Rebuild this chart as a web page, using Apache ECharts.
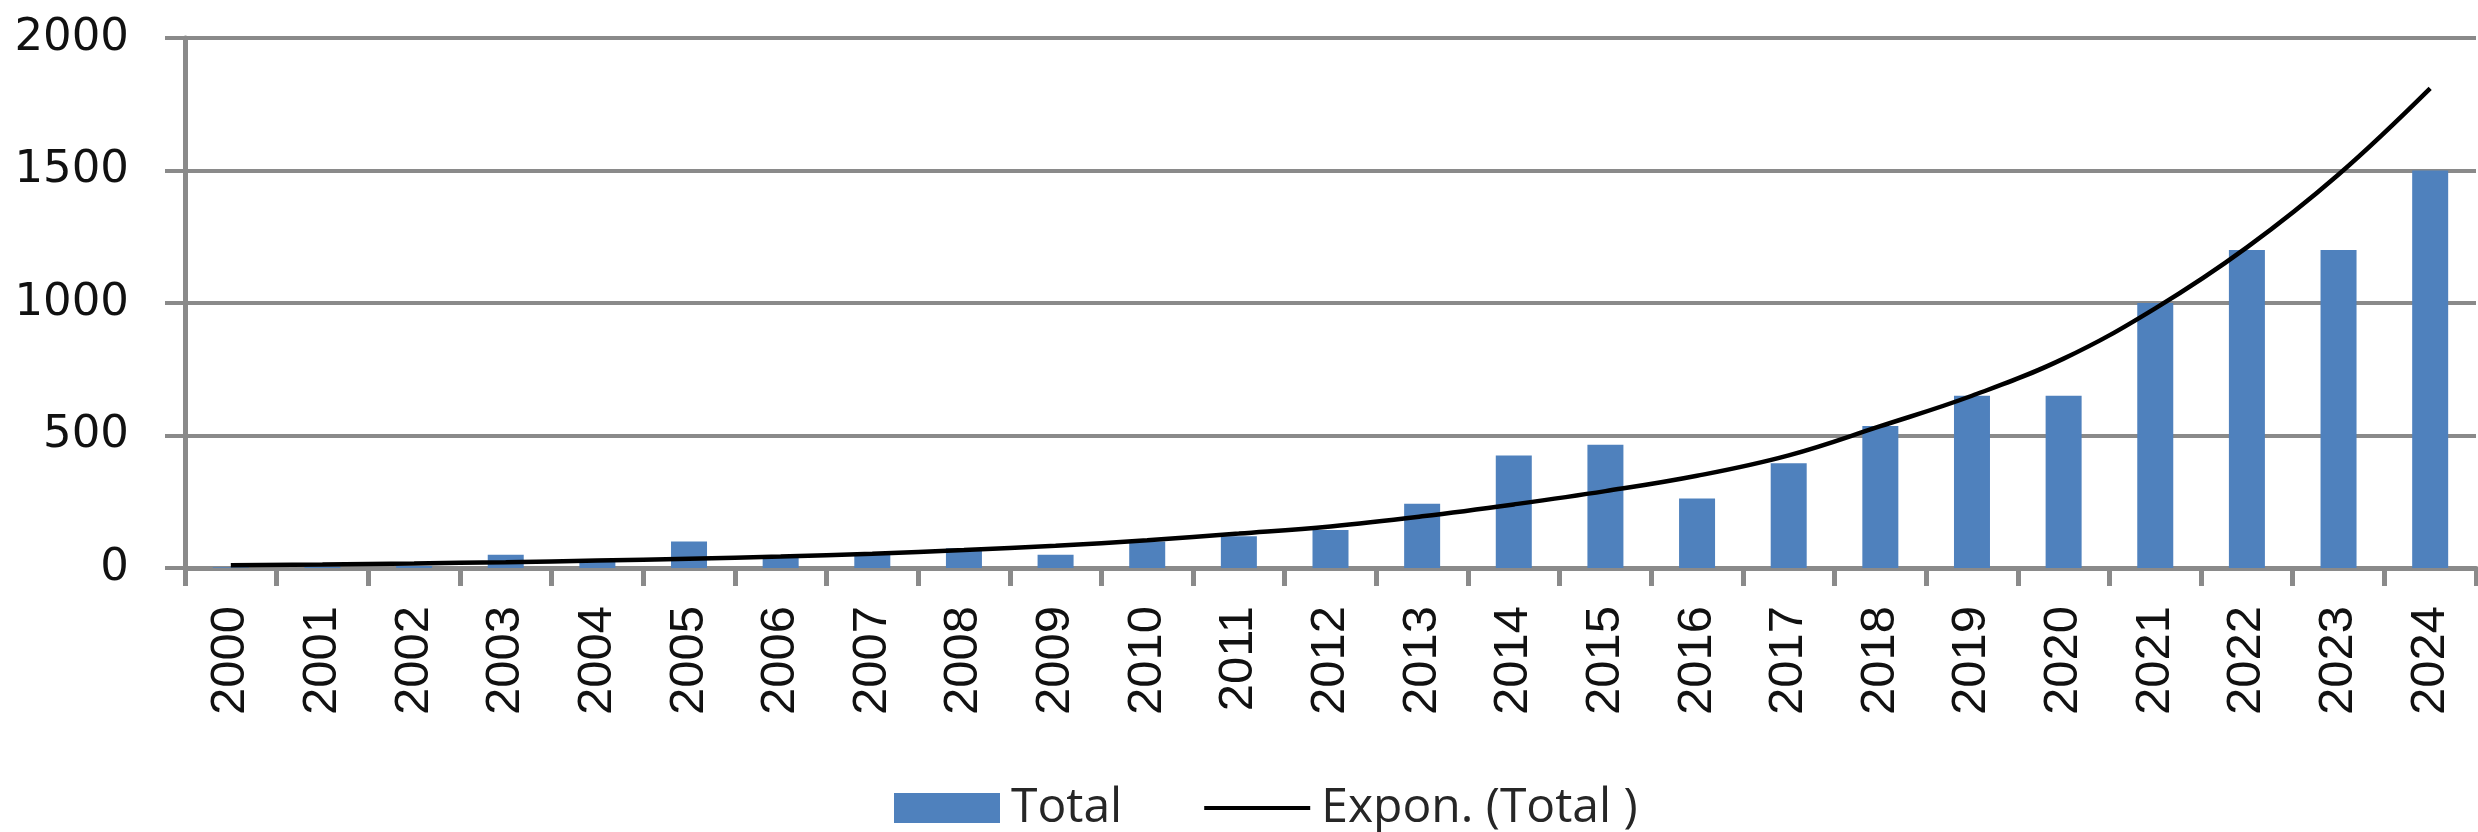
<!DOCTYPE html>
<html>
<head>
<meta charset="utf-8">
<script src="https://cdn.jsdelivr.net/npm/echarts@6/dist/echarts.min.js"></script>
<style>
html,body{margin:0;padding:0;background:#fff;}
#chart{width:2478px;height:832px;}
</style>
</head>
<body>
<div id="chart"></div>
<script>
var categories = ['2000','2001','2002','2003','2004','2005','2006','2007','2008','2009','2010','2011','2012','2013','2014','2015','2016','2017','2018','2019','2020','2021','2022','2023','2024'];
var totalValues = [3, 5, 8, 50, 25, 100, 40, 50, 75, 50, 100, 120, 143, 242, 425, 465, 262, 395, 536, 650, 650, 1000, 1200, 1200, 1500];
var trendValues = [10, 13, 17, 22, 28, 35, 43, 54, 68, 84, 105, 130, 157, 195, 240, 290, 348, 425, 535, 650, 790, 980, 1210, 1485, 1810];
var yTicks = [0, 500, 1000, 1500, 2000];
var seriesNames = ['Total', 'Expon. (Total )'];

var chart = echarts.init(document.getElementById('chart'), null, {renderer: 'canvas'});
var gray = '#8a8a8a';
chart.setOption({
  animation: false,
  backgroundColor: '#ffffff',
  grid: {left: 185, right: 2, top: 38, bottom: 264, containLabel: false},
  legend: {
    left: 889,
    top: 779,
    itemWidth: 106,
    itemHeight: 30,
    itemGap: 80,
    textStyle: {fontFamily: 'Open Sans', fontSize: 48, color: '#262626', lineHeight: 48, padding: [0, 0, 0, 6]},
    data: [
      {name: seriesNames[0], icon: 'rect'},
      {name: seriesNames[1], itemStyle: {opacity: 0}, lineStyle: {width: 4, color: '#000000'}}
    ]
  },
  xAxis: {
    type: 'category',
    data: categories,
    boundaryGap: true,
    axisLine: {show: true, lineStyle: {color: gray, width: 5}},
    axisTick: {show: true, inside: false, length: 18, lineStyle: {color: gray, width: 5}},
    axisLabel: {
      rotate: 90,
      margin: 38,
      interval: 0,
      fontFamily: 'Liberation Sans',
      fontSize: 49,
      color: '#111'
    },
    splitLine: {show: false}
  },
  yAxis: {
    type: 'value',
    min: yTicks[0],
    max: yTicks[yTicks.length - 1],
    interval: yTicks[1] - yTicks[0],
    axisLine: {show: true, lineStyle: {color: gray, width: 5}},
    axisTick: {show: true, inside: false, length: 20, lineStyle: {color: gray, width: 4}},
    axisLabel: {
      margin: 56,
      fontFamily: 'DejaVu Sans',
      fontSize: 45,
      color: '#111',
      formatter: function (v) { return String(v); }
    },
    splitLine: {show: true, lineStyle: {color: gray, width: 4}}
  },
  series: [
    {
      name: seriesNames[0],
      type: 'bar',
      data: totalValues,
      barWidth: 36,
      itemStyle: {color: '#4F81BD'},
      z: 2
    },
    {
      name: seriesNames[1],
      type: 'line',
      data: trendValues,
      smooth: 0.4,
      symbol: 'none',
      showSymbol: false,
      lineStyle: {color: '#000000', width: 4.5},
      itemStyle: {color: '#000000'},
      z: 3
    }
  ]
});
</script>
</body>
</html>
